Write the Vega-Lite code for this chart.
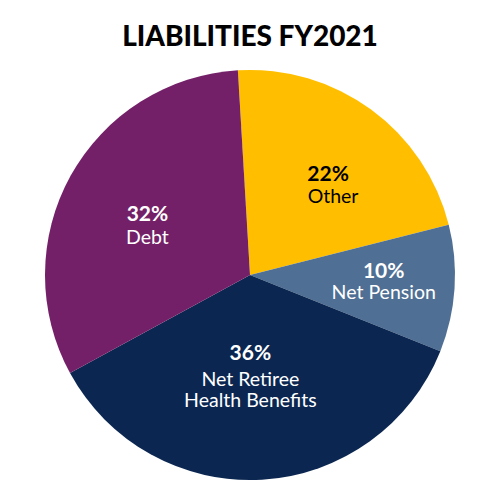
{
  "$schema": "https://vega.github.io/schema/vega-lite/v6.json",
  "autosize": {"type": "fit", "contains": "padding"},
  "width": 500,
  "height": 500,
  "padding": {"top": 24, "left": 0, "right": 0, "bottom": 0},
  "background": "white",
  "config": {"view": {"stroke": null}, "font": "Lato"},
  "title": {
    "text": "LIABILITIES FY2021",
    "font": "Lato",
    "fontSize": 28,
    "fontWeight": 900,
    "color": "#000000",
    "anchor": "middle",
    "offset": -2
  },
  "data": {
    "values": [
      {"name": "Other", "label": "Other", "share": 0.22, "order": 1},
      {"name": "Net Pension", "label": "Net Pension", "share": 0.10, "order": 2},
      {"name": "Net Retiree Health Benefits", "label": "Net Retiree\nHealth Benefits", "share": 0.36, "order": 3},
      {"name": "Debt", "label": "Debt", "share": 0.32, "order": 4}
    ]
  },
  "encoding": {
    "theta": {"field": "share", "type": "quantitative", "stack": true, "scale": {"range": [-0.0593, 6.2239]}},
    "order": {"field": "order", "type": "quantitative", "sort": "ascending"}
  },
  "layer": [
    {
      "mark": {"type": "arc", "outerRadius": 205, "stroke": null},
      "encoding": {
        "color": {
          "field": "name",
          "type": "nominal",
          "scale": {
            "domain": ["Other", "Net Pension", "Net Retiree Health Benefits", "Debt"],
            "range": ["#FFBF00", "#4F6F94", "#0B2751", "#742068"]
          },
          "legend": null
        }
      }
    },
    {"mark": {"type": "text", "fontSize": 21, "fontWeight": "bold", "baseline": "middle", "dx": 6, "dy": -2, "radius": 122, "color": "#000000"},
     "encoding": {"text": {"condition": {"test": "datum.name === 'Other'", "field": "share", "type": "quantitative", "format": ".0%"}, "value": ""}}},
    {"mark": {"type": "text", "fontSize": 19.5, "baseline": "top", "dx": 11, "dy": 11, "radius": 122, "color": "#000000", "lineBreak": "\n", "lineHeight": 21},
     "encoding": {"text": {"condition": {"test": "datum.name === 'Other'", "field": "label", "type": "nominal"}, "value": ""}}},
    {"mark": {"type": "text", "fontSize": 21, "fontWeight": "bold", "baseline": "middle", "dy": -12, "radius": 134, "color": "#ffffff"},
     "encoding": {"text": {"condition": {"test": "datum.name === 'Net Pension'", "field": "share", "type": "quantitative", "format": ".0%"}, "value": ""}}},
    {"mark": {"type": "text", "fontSize": 19.5, "baseline": "top", "dy": 0, "radius": 134, "color": "#ffffff", "lineBreak": "\n", "lineHeight": 21},
     "encoding": {"text": {"condition": {"test": "datum.name === 'Net Pension'", "field": "label", "type": "nominal"}, "value": ""}}},
    {"mark": {"type": "text", "fontSize": 21, "fontWeight": "bold", "baseline": "middle", "dx": -5, "dy": -11, "radius": 90, "color": "#ffffff"},
     "encoding": {"text": {"condition": {"test": "datum.name === 'Net Retiree Health Benefits'", "field": "share", "type": "quantitative", "format": ".0%"}, "value": ""}}},
    {"mark": {"type": "text", "fontSize": 19.5, "baseline": "top", "dx": -5, "dy": 6, "radius": 90, "color": "#ffffff", "lineBreak": "\n", "lineHeight": 21},
     "encoding": {"text": {"condition": {"test": "datum.name === 'Net Retiree Health Benefits'", "field": "label", "type": "nominal"}, "value": ""}}},
    {"mark": {"type": "text", "fontSize": 21, "fontWeight": "bold", "baseline": "middle", "dx": -2, "dy": -4, "radius": 115, "color": "#ffffff"},
     "encoding": {"text": {"condition": {"test": "datum.name === 'Debt'", "field": "share", "type": "quantitative", "format": ".0%"}, "value": ""}}},
    {"mark": {"type": "text", "fontSize": 19.5, "baseline": "top", "dx": -2, "dy": 10, "radius": 115, "color": "#ffffff", "lineBreak": "\n", "lineHeight": 21},
     "encoding": {"text": {"condition": {"test": "datum.name === 'Debt'", "field": "label", "type": "nominal"}, "value": ""}}}
  ]
}
